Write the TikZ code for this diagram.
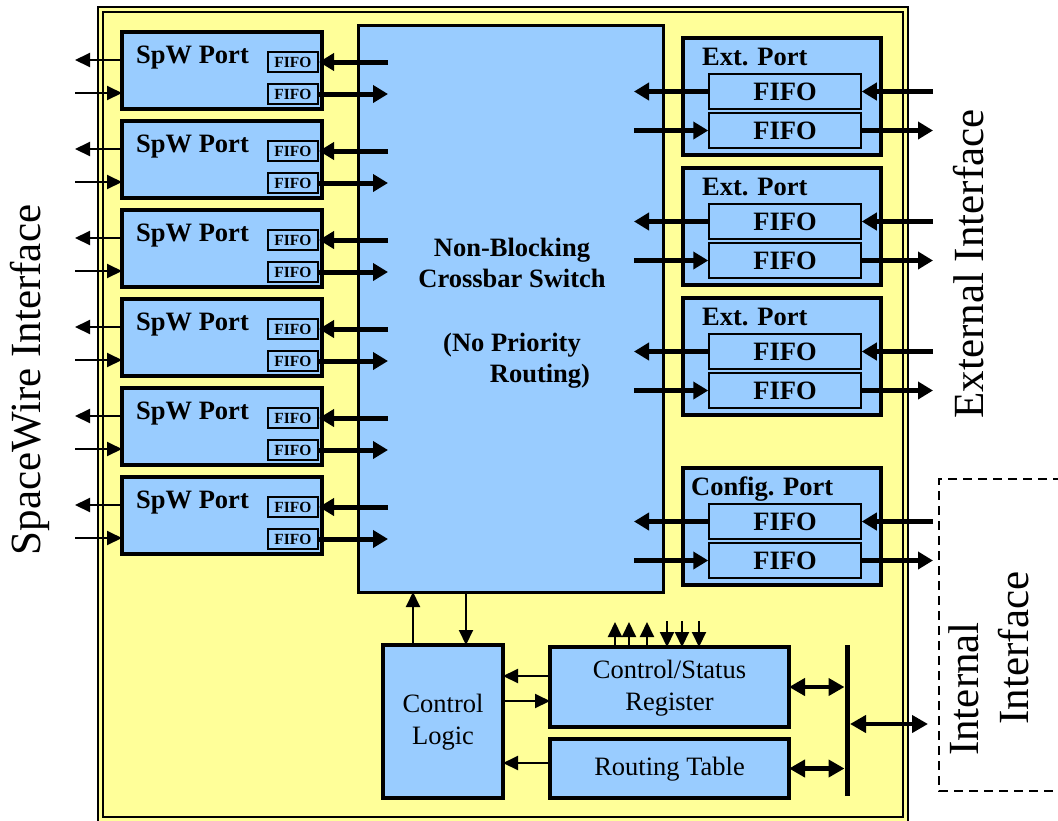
\documentclass[tikz,border=0pt]{standalone}
\usepackage{fontspec}
\setmainfont{LiberationSerif}[Extension=.ttf, UprightFont=*-Regular, BoldFont=*-Bold, ItalicFont=*-Italic, BoldItalicFont=*-BoldItalic]
\usetikzlibrary{arrows.meta}

\begin{document}
\begin{tikzpicture}[x=1pt, y=-1pt,
  box/.style={draw, line width=4pt, fill=boxblue, inner sep=0pt, outer sep=0pt},
  smallfifo/.style={draw, line width=2pt, fill=boxblue, inner sep=0pt, minimum width=50pt, minimum height=20pt, font=\fontsize{15.5}{18}\selectfont\bfseries},
  bigfifo/.style={draw, line width=1.5pt, fill=boxblue, inner sep=0pt, minimum width=152pt, minimum height=35pt, font=\fontsize{26.5}{31}\selectfont\bfseries},
  boldlbl/.style={inner sep=0pt, font=\fontsize{26.5}{31.5}\selectfont\bfseries},
  plainlbl/.style={align=center, font=\fontsize{26.5}{32}\selectfont, text depth=4pt},
  bigtxt/.style={inner sep=0pt, rotate=90, font=\fontsize{43}{50}\selectfont},
  fatarrow/.style={line width=5pt, -{Triangle[length=15pt,width=17pt]}},
  thinarrow/.style={line width=2pt, -{Triangle[length=15pt,width=14pt]}},
  busarrow/.style={line width=4.5pt, {Triangle[length=16pt,width=17pt]}-{Triangle[length=16pt,width=17pt]}}]

  % Colors
  \definecolor{chipyellow}{HTML}{FFFF99}
  \definecolor{boxblue}{HTML}{99CCFF}

  \useasboundingbox (0,0) rectangle (1058,820);

  % Chip frame (double line)
  \fill[chipyellow] (98,7) rectangle (908,824);
  \draw[line width=1.6pt] (98,7) rectangle (908,824);
  \draw[line width=1.6pt] (103,12) rectangle (903,817);

  % Crossbar
  \node[box, line width=3pt, minimum width=305pt, minimum height=567pt] (xbar) at (510.5,308.5) {};
  \node[boldlbl, align=center] (xbarlbl) at (512,313)
    {Non-Blocking\\Crossbar Switch\\[32pt](No Priority\\\hspace*{56pt}Routing)};

  % PART 1: SpW ports
  \foreach \i in {0,...,5} {
    \pgfmathsetmacro{\py}{32+89*\i}
    \node[box, minimum width=200pt, minimum height=77pt] (spw\i) at (222,\py+38.5) {};
    \node[boldlbl, anchor=base west] (spwlbl\i) at (136,\py+31) {SpW Port};
    \node[smallfifo] (sfin\i) at (293,\py+30) {FIFO};
    \node[smallfifo] (sfout\i) at (293,\py+62) {FIFO};
    % outside links
    \coordinate (slout\i) at (75,\py+28);
    \coordinate (slin\i) at (75,\py+61);
    \draw[thinarrow] (spw\i.west |- slout\i) -- (slout\i);
    \draw[thinarrow] (slin\i) -- (spw\i.west |- slin\i);
    % crossbar links
    \coordinate (xsin\i) at (388,\py+30);
    \coordinate (xsout\i) at (388,\py+62);
    \draw[fatarrow] (xsin\i) -- (sfin\i.east);
    \draw[fatarrow] (sfout\i.east) -- (xsout\i);
  }

  % PART 2: Ext. ports and config port
  \foreach \i/\py/\lx/\name in {0/38/702/Ext. Port, 1/168/702/Ext. Port, 2/298/702/Ext. Port, 3/468/691/Config. Port} {
    \node[box, minimum width=198pt, minimum height=117pt] (ext\i) at (782,\py+58.5) {};
    \node[boldlbl, anchor=base west] (extlbl\i) at (\lx,\py+27) {\name};
    \node[bigfifo] (efin\i) at (785,\py+53.5) {FIFO};
    \node[bigfifo] (efout\i) at (785,\py+92.5) {FIFO};
    % outside links
    \coordinate (erin\i) at (933,\py+53.5);
    \coordinate (erout\i) at (933,\py+92.5);
    \draw[fatarrow] (erin\i) -- (efin\i.east);
    \draw[fatarrow] (efout\i.east) -- (erout\i);
    % crossbar links
    \coordinate (elout\i) at (634,\py+53.5);
    \coordinate (elin\i) at (634,\py+92.5);
    \draw[fatarrow] (efin\i.west) -- (elout\i);
    \draw[fatarrow] (elin\i) -- (efout\i.west);
  }

  % PART 3: Control section
  \node[box, plainlbl, minimum width=120pt, minimum height=153pt] (ctrl) at (443,721.5) {Control\\Logic};
  \node[box, plainlbl, minimum width=239pt, minimum height=80pt] (csr) at (669.5,687) {Control/Status\\Register};
  \node[box, plainlbl, minimum width=239pt, minimum height=59pt] (rtab) at (669.5,768.5) {Routing Table};

  % crossbar <-> control logic
  \coordinate (cup) at (413,0);
  \coordinate (cdn) at (466,0);
  \draw[thinarrow] (ctrl.north -| cup) -- (xbar.south -| cup);
  \draw[thinarrow] (xbar.south -| cdn) -- (ctrl.north -| cdn);

  % registers <-> control logic
  \coordinate (crl1) at (0,676);
  \coordinate (crl2) at (0,701);
  \coordinate (crl3) at (0,763);
  \draw[thinarrow] (csr.west |- crl1) -- (ctrl.east |- crl1);
  \draw[thinarrow] (ctrl.east |- crl2) -- (csr.west |- crl2);
  \draw[thinarrow] (rtab.west |- crl3) -- (ctrl.east |- crl3);

  % status lines on top of the register
  \foreach \x in {615,629,647} {
    \coordinate (csrup\x) at (\x,622);
    \draw[thinarrow] (csr.north -| csrup\x) -- (csrup\x);
  }
  \foreach \x in {667,682,699} {
    \coordinate (csrdn\x) at (\x,621);
    \draw[thinarrow] (csrdn\x) -- (csr.north -| csrdn\x);
  }

  % internal bus
  \coordinate (bustop) at (847,645);
  \coordinate (busbot) at (847,796);
  \coordinate (intport) at (928,724);
  \draw[line width=5pt] (bustop) -- (busbot);
  \draw[busarrow, shorten >=2.5pt] (csr.east) -- (csr.east -| bustop);
  \draw[busarrow, shorten >=2.5pt] (rtab.east) -- (rtab.east -| bustop);
  \draw[busarrow, shorten <=3pt] (bustop |- intport) -- (intport);

  % Internal interface (dashed)
  \draw[line width=2pt, dash pattern=on 9pt off 6pt] (1062,479) -| (939,791) -- (1062,791);

  % Interface labels
  \node[bigtxt] (spwif) at (30,380) {SpaceWire Interface};
  \node[bigtxt] (extif) at (969,264) {External Interface};
  \node[bigtxt] (intif1) at (964,689) {Internal};
  \node[bigtxt] (intif2) at (1014,648) {Interface};

\end{tikzpicture}
\end{document}
